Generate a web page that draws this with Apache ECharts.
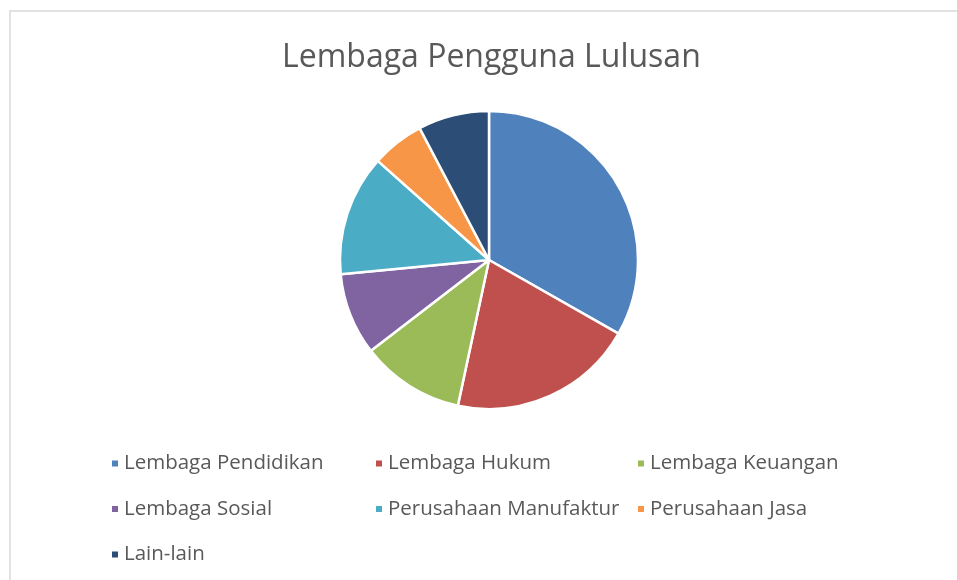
<!DOCTYPE html>
<html><head><meta charset="utf-8">
<script src="https://cdn.jsdelivr.net/npm/echarts@6/dist/echarts.min.js"></script>
<style>html,body{margin:0;padding:0;background:#fff}#c{width:957px;height:580px}</style>
</head><body><div id="c"></div>
<script>
const categories = ["Lembaga Pendidikan","Lembaga Hukum","Lembaga Keuangan","Lembaga Sosial","Perusahaan Manufaktur","Perusahaan Jasa","Lain-lain"];
const values = [33.2, 20.1, 11.2, 8.9, 13.1, 5.7, 7.7];
const colors = ["#4F81BD","#C0504D","#9BBB59","#8064A2","#4BACC6","#F79646","#2C4D75"];
const titleText = "Lembaga Pengguna Lulusan";

const font = "'Open Sans', sans-serif";
const legendText = {fontFamily: font, fontSize: 20.5, color: '#595959', lineHeight: 20};
function col(names, left){
  return {orient:'vertical', left:left, top:448, itemWidth:8, itemHeight:8, icon:'rect', itemGap:24.5,
    textStyle:legendText, data:names, selectedMode:false};
}
const chart = echarts.init(document.getElementById('c'), null, {renderer:'canvas'});
chart.setOption({
  animation:false,
  color: colors,
  graphic:[{type:'rect', shape:{x:10,y:11,width:1000,height:1000}, style:{fill:'none', stroke:'#D9D9D9', lineWidth:1.5}}],
  title:{text:titleText, left:277, top:37, textStyle:{fontFamily:font, fontSize:32, fontWeight:'normal', color:'#595959'}},
  legend:[
    col([categories[0],categories[3],categories[6]], 105),
    col([categories[1],categories[4]], 369),
    col([categories[2],categories[5]], 631)
  ],
  series:[{type:'pie', center:[489,260], radius:[0,149], startAngle:90, clockwise:true,
    label:{show:false}, labelLine:{show:false}, emphasis:{disabled:true},
    itemStyle:{borderColor:'#fff', borderWidth:2.5},
    data: categories.map((n,i)=>({name:n, value:values[i]}))}]
});
</script></body></html>
